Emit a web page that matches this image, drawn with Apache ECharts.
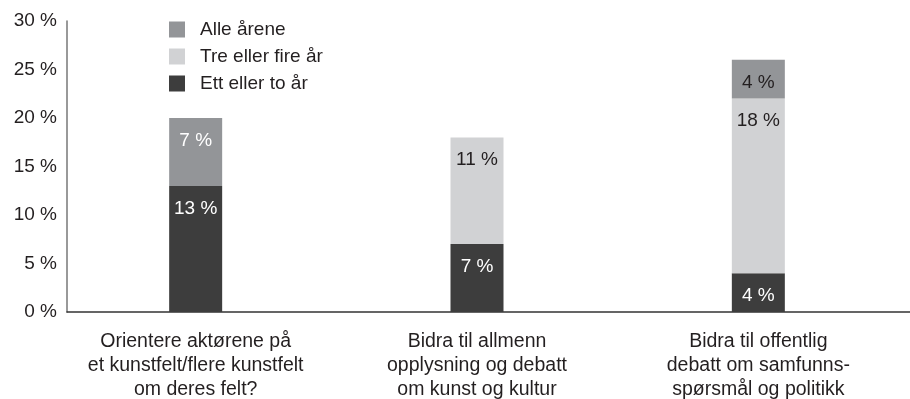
<!DOCTYPE html>
<html>
<head>
<meta charset="utf-8">
<script src="https://cdn.jsdelivr.net/npm/echarts@6/dist/echarts.min.js"></script>
<style>
  html, body { margin: 0; padding: 0; background: #fff; }
  #chart { width: 910px; height: 399px; }
</style>
</head>
<body>
<div id="chart"></div>
<script>
// Categories (question wording, with manual line breaks)
const categories = [
  'Orientere aktørene på\net kunstfelt/flere kunstfelt\nom deres felt?',
  'Bidra til allmenn\nopplysning og debatt\nom kunst og kultur',
  'Bidra til offentlig\ndebatt om samfunns-\nspørsmål og politikk'
];

// Share of respondents (%), stacked from the bottom
const ettEllerTo = [13, 7, 4];
const treEllerFire = [null, 11, 18];
const alleArene = [7, null, 4];

// Value axis ticks
const yMin = 0;
const yMax = 30;
const yStep = 5;

const FONT = 'Liberation Sans';
const TEXT = '#231f20';
const DARK = '#3d3d3d';
const LIGHT = '#d1d2d4';
const MID = '#939598';

function seg(name, values, color, labelColors) {
  return {
    name: name,
    type: 'bar',
    stack: 'total',
    xAxisIndex: 0,
    yAxisIndex: 0,
    barWidth: 53,
    itemStyle: { color: color },
    data: values.map((v, i) => ({
      value: v,
      label: { color: labelColors[i] }
    })),
    label: {
      show: true,
      position: ['50%', 13],
      align: 'center',
      verticalAlign: 'top',
      fontFamily: FONT,
      fontSize: 19,
      formatter: p => p.value == null ? '' : p.value + ' %'
    },
    emphasis: { disabled: true }
  };
}

const chart = echarts.init(document.getElementById('chart'), null, { renderer: 'canvas' });
chart.setOption({
  animation: false,
  backgroundColor: '#fff',
  textStyle: { fontFamily: FONT, color: TEXT },
  legend: {
    orient: 'vertical',
    left: 169,
    top: 20,
    padding: 0,
    itemWidth: 16,
    itemHeight: 16,
    itemGap: 8,
    icon: 'rect',
    data: ['Alle årene', 'Tre eller fire år', 'Ett eller to år'],
    textStyle: { fontFamily: FONT, fontSize: 19, color: TEXT, padding: [0, 0, 0, 10] }
  },
  grid: [
    { left: 55, right: 11, top: 21, bottom: 87, outerBoundsMode: 'none' },
    { left: 67, right: 0, top: 21, bottom: 87, outerBoundsMode: 'none' }
  ],
  xAxis: [
    {
      type: 'category',
      gridIndex: 0,
      data: categories,
      axisLine: { show: false },
      axisTick: { show: false },
      axisLabel: {
        margin: 18,
        fontFamily: FONT,
        fontSize: 19.5,
        lineHeight: 24,
        color: TEXT,
        align: 'center'
      }
    },
    {
      type: 'value',
      gridIndex: 1,
      min: 0,
      max: 1,
      axisLine: { show: true, lineStyle: { color: '#333', width: 1.5 } },
      axisTick: { show: false },
      axisLabel: { show: false },
      splitLine: { show: false }
    }
  ],
  yAxis: [
    {
      type: 'value',
      gridIndex: 0,
      min: yMin,
      max: yMax,
      interval: yStep,
      show: false
    },
    {
      type: 'value',
      gridIndex: 1,
      min: yMin,
      max: yMax,
      interval: yStep,
      axisLine: { show: true, lineStyle: { color: '#777', width: 1.5 } },
      axisTick: { show: false },
      splitLine: { show: false },
      axisLabel: {
        margin: 10,
        fontFamily: FONT,
        fontSize: 19,
        color: TEXT,
        formatter: '{value} %'
      }
    }
  ],
  series: [
    seg('Ett eller to år', ettEllerTo, DARK, ['#fff', '#fff', '#fff']),
    seg('Tre eller fire år', treEllerFire, LIGHT, [TEXT, TEXT, TEXT]),
    seg('Alle årene', alleArene, MID, ['#fff', TEXT, TEXT])
  ]
});
</script>
</body>
</html>
